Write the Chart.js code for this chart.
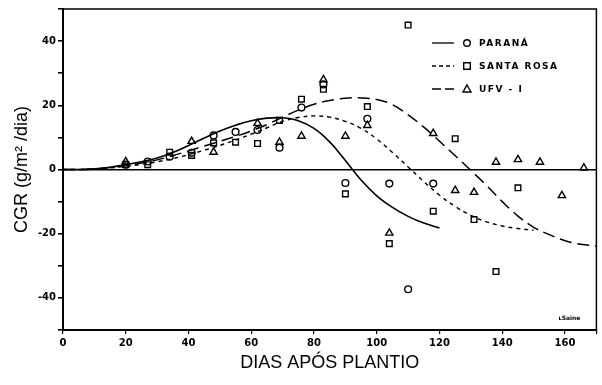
<!DOCTYPE html>
<html>
<head>
<meta charset="utf-8">
<script src="https://cdn.jsdelivr.net/npm/chart.js@4.4.0/dist/chart.umd.min.js"></script>
<style>
  html, body { margin: 0; padding: 0; background: #fff; }
  #wrap { width: 602px; height: 385px; }
</style>
</head>
<body>
<div id="wrap"><canvas id="cgrChart" width="602" height="385"></canvas></div>
<script>
// observed CGR values (g/m2/dia) per cultivar
var paranaDays = [20, 27, 34, 41, 48, 55, 62, 69, 76, 83, 90, 97, 104, 110, 118];
var paranaCGR  = [1.5, 2.5, 4, 5.2, 10.6, 11.7, 12.3, 6.8, 19.3, 26.5, -4.2, 15.8, -4.4, -37.3, -4.4];

var santaRosaDays = [20, 27, 34, 41, 48, 55, 62, 69, 76, 83, 90, 97, 104, 110, 118, 125, 131, 138, 145];
var santaRosaCGR  = [1.5, 1.5, 5.4, 4.4, 8.3, 8.5, 8.1, 15.3, 21.9, 25, -7.6, 19.6, -23.1, 45, -13, 9.6, -15.6, -31.8, -5.7];

var ufvDays = [20, 41, 48, 62, 69, 76, 83, 90, 97, 104, 118, 125, 131, 138, 145, 152, 159, 166];
var ufvCGR  = [2.5, 8.8, 5.4, 14.4, 8.5, 10.4, 28, 10.4, 13.75, -19.8, 11.25, -6.5, -7.1, 2.3, 3.1, 2.3, -8.1, 0.5];

// fitted curves
var paranaFitDays = [0, 5, 10, 15, 20, 25, 30, 35, 40, 45, 50, 55, 60, 65, 70, 75, 80, 85, 90, 95, 100, 105, 110, 115, 120];
var paranaFit = [0, 0, 0.2, 0.7, 1.5, 2.4, 3.6, 5.3, 7.5, 9.8, 12, 13.8, 15.2, 16, 16.1, 15.2, 12.8, 8.6, 2.8, -3.3, -8.2, -11.8, -14.6, -16.7, -18.2];

var santaRosaFitDays = [0, 5, 10, 15, 20, 25, 30, 35, 40, 45, 50, 55, 60, 65, 70, 75, 80, 85, 90, 95, 100, 105, 110, 115, 120, 125, 130, 135, 140, 145, 150];
var santaRosaFit = [0, 0, 0.2, 0.5, 1, 1.6, 2.4, 3.4, 4.6, 6, 7.5, 9.2, 11, 13, 15, 16.2, 16.7, 16.3, 15, 12.8, 9.5, 5.3, 0.8, -3.8, -8, -11.5, -14.3, -16.3, -17.6, -18.4, -18.9];

var ufvFitDays = [0, 5, 10, 15, 20, 25, 30, 35, 40, 45, 50, 55, 60, 65, 70, 75, 80, 85, 90, 95, 100, 105, 110, 115, 120, 125, 130, 135, 140, 145, 150, 155, 160, 165, 170];
var ufvFit = [0, 0, 0.2, 0.6, 1.2, 2, 3, 4.3, 5.8, 7.3, 8.8, 10.3, 12, 14, 16.3, 18.5, 20.3, 21.5, 22.2, 22.3, 21.8, 20.2, 17, 13.2, 8.8, 4.3, -0.3, -5, -10, -14.5, -18, -20.3, -22.2, -23.3, -23.8];

var xTicks = [0, 20, 40, 60, 80, 100, 120, 140, 160];
var yTicks = [-40, -20, 0, 20, 40];

var legendLabels = ['PARANÁ', 'SANTA ROSA', 'UFV - I'];

function pairs(xs, ys) {
    return xs.map(function (x, i) { return { x: x, y: ys[i] }; });
}

var tickFont = { family: 'DejaVu Sans', size: 10, weight: 'bold' };

// frame, legend and signature
var extrasPlugin = {
    id: 'extras',
    afterDraw: function (chart) {
        var c = chart.ctx, a = chart.chartArea;
        c.save();
        c.strokeStyle = '#000';
        c.lineWidth = 1.5;
        c.beginPath();
        c.moveTo(a.left, a.top);
        c.lineTo(a.right, a.top);
        c.lineTo(a.right, a.bottom);
        c.stroke();

        var styles = [
            { dash: [], marker: 'circle' },
            { dash: [4, 3], marker: 'rect' },
            { dash: [9, 4], marker: 'triangle' }
        ];
        var lx = a.left + 369, ty = a.top + 34;
        c.font = 'bold 9px "DejaVu Sans"';
        c.textBaseline = 'middle';
        c.fillStyle = '#000';
        if ('letterSpacing' in c) c.letterSpacing = '1.5px';
        styles.forEach(function (s, i) {
            var y = ty + i * 23;
            c.lineWidth = 1.3;
            c.setLineDash(s.dash);
            c.beginPath();
            c.moveTo(lx, y);
            c.lineTo(lx + 22, y);
            c.stroke();
            c.setLineDash([]);
            c.lineWidth = 1.4;
            var mx = lx + 35;
            c.beginPath();
            if (s.marker === 'circle') c.arc(mx, y, 3.3, 0, Math.PI * 2);
            else if (s.marker === 'rect') c.rect(mx - 3.3, y - 3.3, 6.6, 6.6);
            else { c.moveTo(mx, y - 4); c.lineTo(mx + 4, y + 3); c.lineTo(mx - 4, y + 3); c.closePath(); }
            c.stroke();
            c.fillText(legendLabels[i], mx + 12, y + 0.5);
        });

        if ('letterSpacing' in c) c.letterSpacing = '0px';
        c.font = 'bold 6px "DejaVu Sans"';
        c.fillText('ʟSaine', a.right - 38, a.bottom - 12);
        c.restore();
    }
};

var ctx = document.getElementById('cgrChart').getContext('2d');
var cgrChart = new Chart(ctx, {
    type: 'scatter',
    data: {
        datasets: [
            {
                label: 'PARANÁ',
                data: pairs(paranaDays, paranaCGR),
                pointStyle: 'circle',
                pointRadius: 3.4,
                borderColor: '#000',
                backgroundColor: 'transparent',
                borderWidth: 1.4
            },
            {
                label: 'SANTA ROSA',
                data: pairs(santaRosaDays, santaRosaCGR),
                pointStyle: 'rect',
                pointRadius: 4,
                borderColor: '#000',
                backgroundColor: 'transparent',
                borderWidth: 1.4
            },
            {
                label: 'UFV - I',
                data: pairs(ufvDays, ufvCGR),
                pointStyle: 'triangle',
                pointRadius: 4.2,
                borderColor: '#000',
                backgroundColor: 'transparent',
                borderWidth: 1.4
            },
            {
                label: 'PARANÁ ajuste',
                data: pairs(paranaFitDays, paranaFit),
                showLine: true,
                pointRadius: 0,
                borderColor: '#000',
                borderWidth: 1.6,
                tension: 0.4
            },
            {
                label: 'SANTA ROSA ajuste',
                data: pairs(santaRosaFitDays, santaRosaFit),
                showLine: true,
                pointRadius: 0,
                borderColor: '#000',
                borderWidth: 1.4,
                borderDash: [4, 4],
                tension: 0.4
            },
            {
                label: 'UFV - I ajuste',
                data: pairs(ufvFitDays, ufvFit),
                showLine: true,
                pointRadius: 0,
                borderColor: '#000',
                borderWidth: 1.5,
                borderDash: [12, 6],
                tension: 0.4
            }
        ]
    },
    options: {
        responsive: false,
        animation: false,
        layout: { padding: { top: 9, right: 1, left: 0, bottom: 0 } },
        plugins: {
            legend: { display: false },
            tooltip: { enabled: false }
        },
        scales: {
            x: {
                type: 'linear',
                min: 0,
                max: 170,
                border: { color: '#000', width: 2 },
                grid: {
                    drawOnChartArea: false,
                    tickColor: '#000',
                    tickLength: 4,
                    lineWidth: 1.2
                },
                ticks: {
                    stepSize: 20,
                    autoSkip: false,
                    maxRotation: 0,
                    padding: 3,
                    color: '#000',
                    font: tickFont,
                    callback: function (v) { return xTicks.indexOf(v) >= 0 ? String(v) : ''; }
                },
                title: {
                    display: true,
                    text: 'DIAS APÓS PLANTIO',
                    color: '#000',
                    font: { family: 'Liberation Sans', size: 18 },
                    padding: 11
                },
                afterFit: function (s) { s.height = 55; }
            },
            y: {
                min: -50,
                max: 50,
                border: { color: '#000', width: 2 },
                grid: {
                    color: function (c) { return c.tick && c.tick.value === 0 ? '#000' : 'transparent'; },
                    lineWidth: 1.6,
                    tickColor: '#000',
                    tickLength: 5
                },
                ticks: {
                    stepSize: 10,
                    autoSkip: false,
                    padding: 2,
                    color: '#000',
                    font: tickFont,
                    callback: function (v) { return yTicks.indexOf(v) >= 0 ? String(v) : ''; }
                },
                title: {
                    display: true,
                    text: 'CGR (g/m² /dia)',
                    color: '#000',
                    font: { family: 'Liberation Sans', size: 18 },
                    padding: 11
                },
                afterFit: function (s) { s.width = 63; }
            }
        }
    },
    plugins: [extrasPlugin]
});
</script>
</body>
</html>
